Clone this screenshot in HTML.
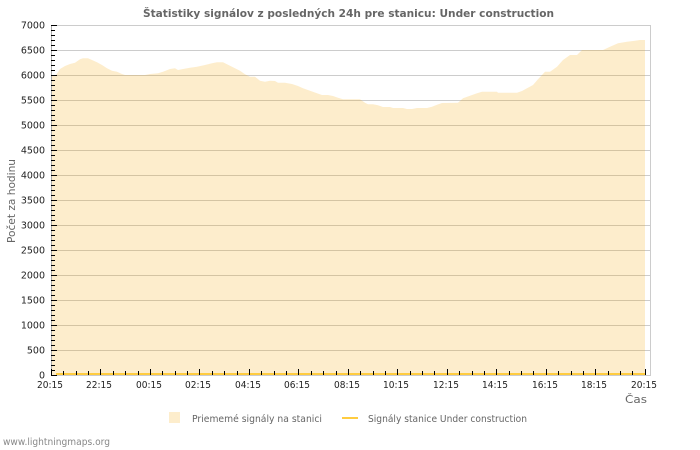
<!DOCTYPE html>
<html><head><meta charset="utf-8"><style>
html,body{margin:0;padding:0;background:#fff;}
svg{display:block;}
text{font-family:"DejaVu Sans","Liberation Sans",sans-serif;}
</style></head><body>
<svg width="700" height="450" viewBox="0 0 700 450" xmlns="http://www.w3.org/2000/svg">
<rect width="700" height="450" fill="#fff"/>
<text x="348.5" y="17" text-anchor="middle" font-size="11" font-weight="bold" fill="#666" textLength="411" lengthAdjust="spacingAndGlyphs">Štatistiky signálov z posledných 24h pre stanicu: Under construction</text>
<!-- grid -->
<g stroke="#ccc" stroke-width="1" shape-rendering="crispEdges">
<line x1="51" y1="25.5" x2="650" y2="25.5"/>
<line x1="51" y1="50.5" x2="650" y2="50.5"/>
<line x1="51" y1="75.5" x2="650" y2="75.5"/>
<line x1="51" y1="100.5" x2="650" y2="100.5"/>
<line x1="51" y1="125.5" x2="650" y2="125.5"/>
<line x1="51" y1="150.5" x2="650" y2="150.5"/>
<line x1="51" y1="175.5" x2="650" y2="175.5"/>
<line x1="51" y1="200.5" x2="650" y2="200.5"/>
<line x1="51" y1="225.5" x2="650" y2="225.5"/>
<line x1="51" y1="250.5" x2="650" y2="250.5"/>
<line x1="51" y1="275.5" x2="650" y2="275.5"/>
<line x1="51" y1="300.5" x2="650" y2="300.5"/>
<line x1="51" y1="325.5" x2="650" y2="325.5"/>
<line x1="51" y1="350.5" x2="650" y2="350.5"/>
<line x1="51" y1="375.5" x2="650" y2="375.5"/>
<line x1="650.5" y1="25" x2="650.5" y2="376"/>
</g>
<!-- area -->
<polygon fill="rgba(245,165,0,0.2)" points="52,75 56,75 60,69 65,66 70,64 75,62.7 80,59.3 83,58.3 88,58.3 92,60 97,62.3 102,65 107,68.3 112,70.7 117,71.7 122,74 125,75 145,75 150,74 158,73.3 163,71.7 170,69 175,68.3 178,70 183,69 190,67.7 197,66.7 205,65 212,63.3 217,62.3 223,62.3 227,64.3 233,67.3 240,70.7 245,74.3 250,76.7 255,76.7 260,80.7 265,81.7 270,80.7 275,81 278,82.7 285,82.7 292,84 298,86 303,88.3 310,90.7 317,93.3 322,95 328,95 333,96 338,97.7 343,99.3 360,99.3 365,102.7 368,104.3 373,104.3 378,105.3 383,107 390,107 393,108 403,108 407,109 412,109 417,108 427,108 432,106.7 437,104.7 442,103 458,102.7 463,98.3 470,95.7 477,93.3 482,91.7 497,91.7 498,92.7 517,92.7 522,91 527,88.3 533,85 538,79.3 545,71.7 550,71.7 557,66.7 563,60 570,55 577,55 582,50 603,50 610,46.7 618,43.3 627,41.7 633,41 640,40 645,40 645,375 52,375"/>
<!-- yellow series line -->
<line x1="56" y1="374" x2="645" y2="374" stroke="#ffcc40" stroke-width="2"/>
<!-- left axis -->
<line x1="51.5" y1="25" x2="51.5" y2="376" stroke="#aaa" stroke-width="1" shape-rendering="crispEdges"/>
<g id="yt" stroke="#000" stroke-width="1" shape-rendering="crispEdges"></g>
<g id="xt" stroke="#000" stroke-width="1" shape-rendering="crispEdges"></g>
<g id="yl" font-size="9.5" fill="#222" text-anchor="end"></g>
<g id="xl" font-size="9.5" fill="#222" text-anchor="middle"></g>
<text transform="translate(15,201) rotate(-90)" text-anchor="middle" font-size="10.5" fill="#666" textLength="84" lengthAdjust="spacingAndGlyphs">Počet za hodinu</text>
<text x="647" y="403" text-anchor="end" font-size="10.5" fill="#666" textLength="22" lengthAdjust="spacingAndGlyphs">Čas</text>
<!-- legend -->
<rect x="169" y="412" width="11" height="11" fill="#fdedcc"/>
<text x="192" y="422" font-size="10" fill="#666" textLength="130" lengthAdjust="spacingAndGlyphs">Priememé signály na stanici</text>
<line x1="342" y1="418" x2="358" y2="418" stroke="#ffcc40" stroke-width="2"/>
<text x="368" y="422" font-size="10" fill="#666" textLength="159" lengthAdjust="spacingAndGlyphs">Signály stanice Under construction</text>
<text x="3" y="445" font-size="9.5" fill="#888" textLength="107" lengthAdjust="spacingAndGlyphs">www.lightningmaps.org</text>
<script>
(function(){
var ns="http://www.w3.org/2000/svg";
function el(p,t,a,txt){var e=document.createElementNS(ns,t);for(var k in a)e.setAttribute(k,a[k]);if(txt!==undefined)e.textContent=txt;document.getElementById(p).appendChild(e);}
for(var v=0;v<=7000;v+=100){var y=375-v/20;var major=(v%500===0);
 el("yt","line",{x1:51,y1:y+0.5,x2:major?57:55,y2:y+0.5});
 if(major){el("yl","text",{x:45,y:y+3.5},String(v));}
}
var labels=["20:15","22:15","00:15","02:15","04:15","06:15","08:15","10:15","12:15","14:15","16:15","18:15","20:15"];
for(var i=0;i<=48;i++){var x=Math.round(51+i*12.37)+0.5;var major=(i%4===0);
 el("xt","line",{x1:x,y1:major?369:371,x2:x,y2:375});
 if(major){el("xl","text",{x:x-1.5,y:388,textLength:26,lengthAdjust:"spacingAndGlyphs"},labels[i/4]);}
}
})();
</script>
</svg>
</body></html>
